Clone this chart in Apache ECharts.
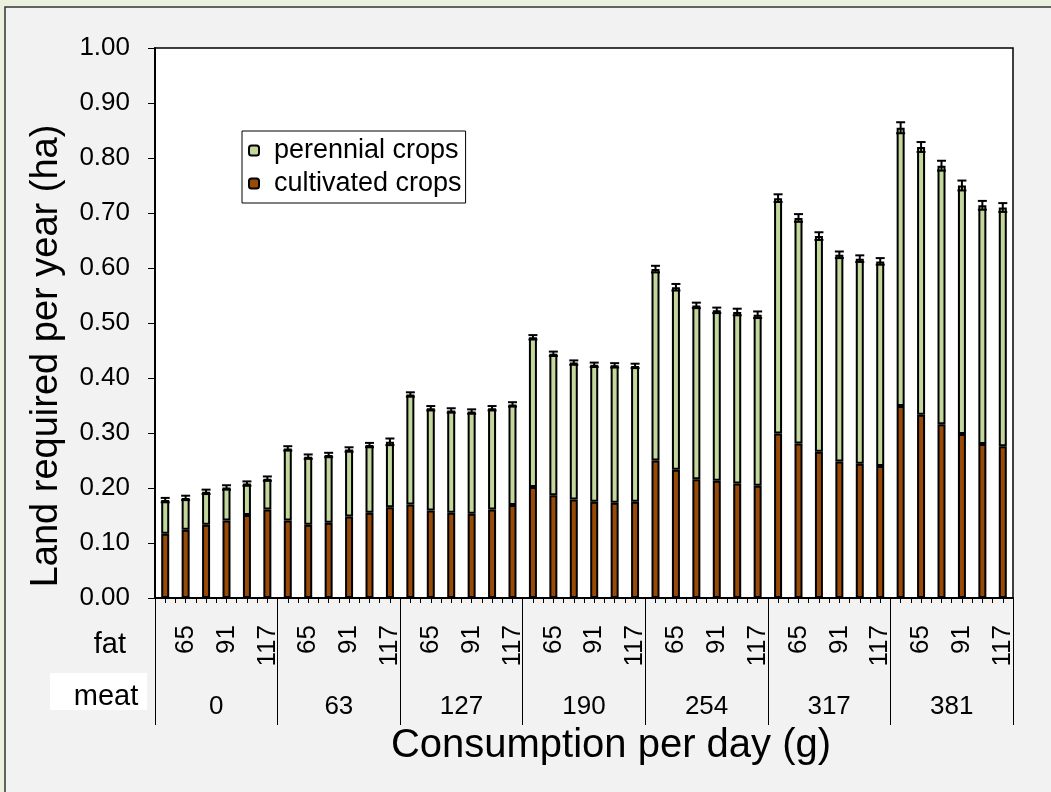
<!DOCTYPE html>
<html>
<head>
<meta charset="utf-8">
<script src="https://cdn.jsdelivr.net/npm/echarts@6/dist/echarts.min.js"></script>
<style>
html,body{margin:0;padding:0;background:#ebf1de;}
#chart{width:1051px;height:792px;}
</style>
</head>
<body>
<div id="chart"></div>
<script>
// ---- data ----
const meatLevels = ['0', '63', '127', '190', '254', '317', '381'];
const fatTicks = ['', '65', '', '91', '', '117'];
const cultivated = [
  0.117, 0.124, 0.133, 0.141, 0.151, 0.161,
  0.141, 0.133, 0.137, 0.148, 0.155, 0.165,
  0.170, 0.159, 0.155, 0.153, 0.161, 0.169,
  0.202, 0.187, 0.179, 0.175, 0.173, 0.175,
  0.250, 0.233, 0.216, 0.213, 0.208, 0.204,
  0.299, 0.281, 0.266, 0.248, 0.244, 0.240,
  0.349, 0.333, 0.316, 0.298, 0.280, 0.276
];
const perennial = [
  0.061, 0.058, 0.060, 0.060, 0.057, 0.056,
  0.131, 0.124, 0.123, 0.122, 0.123, 0.119,
  0.200, 0.186, 0.186, 0.186, 0.184, 0.183,
  0.272, 0.257, 0.249, 0.249, 0.250, 0.247,
  0.348, 0.332, 0.316, 0.310, 0.312, 0.311,
  0.428, 0.410, 0.392, 0.376, 0.373, 0.372,
  0.506, 0.487, 0.470, 0.452, 0.434, 0.434
];
const errorHalf = [
  0.004, 0.004, 0.004, 0.004, 0.004, 0.004,
  0.004, 0.004, 0.004, 0.004, 0.004, 0.006,
  0.004, 0.004, 0.004, 0.004, 0.004, 0.004,
  0.004, 0.004, 0.004, 0.004, 0.004, 0.004,
  0.006, 0.006, 0.005, 0.005, 0.006, 0.006,
  0.007, 0.007, 0.007, 0.006, 0.006, 0.006,
  0.010, 0.009, 0.009, 0.009, 0.008, 0.008
];
const yTicks = { min: 0, max: 1, interval: 0.1 };

// ---- build ----
const FONT = "'Liberation Sans', Arial, sans-serif";
const cats = [];
meatLevels.forEach((m, gi) => fatTicks.forEach((f, fi) => cats.push(m + '|' + fi)));
const errData = cats.map((c, i) => [i, cultivated[i] + perennial[i], errorHalf[i]]);

const chart = echarts.init(document.getElementById('chart'));
const option = {
  backgroundColor: '#ebf1de',
  animation: false,
  textStyle: { fontFamily: FONT },
  graphic: [
    { type: 'rect', z: -10, shape: { x: 5, y: 7, width: 1070, height: 800 },
      style: { fill: '#f2f2f2', stroke: '#333', lineWidth: 1.5 } },
    { type: 'rect', z: 1, shape: { x: 50, y: 673, width: 97, height: 37 }, style: { fill: '#fff' } },
    { type: 'text', z: 2, style: { text: 'meat', x: 106, y: 697, fill: '#000', font: '29px ' + FONT, textAlign: 'center', textVerticalAlign: 'middle' } },
    { type: 'text', z: 2, style: { text: 'fat', x: 126, y: 645, fill: '#000', font: '29px ' + FONT, textAlign: 'right', textVerticalAlign: 'middle' } },
    { type: 'text', z: 2, rotation: Math.PI / 2, x: 47, y: 356,
      style: { text: 'Land required per year (ha)', x: 0, y: 0, fill: '#000', font: '38px ' + FONT, textAlign: 'center', textVerticalAlign: 'middle' } },
    { type: 'text', z: 2, style: { text: 'Consumption per day (g)', x: 611, y: 746, fill: '#000', font: '40px ' + FONT, textAlign: 'center', textVerticalAlign: 'middle' } }
  ],
  legend: {
    orient: 'vertical', left: 242, top: 131,
    data: ['perennial crops', 'cultivated crops'],
    backgroundColor: '#fff', borderColor: '#000', borderWidth: 1,
    padding: [6, 4, 6, 6], itemGap: 6, itemWidth: 10, itemHeight: 10,
    textStyle: { fontSize: 27, color: '#000', fontFamily: FONT, padding: [0, 0, 0, 10] }
  },
  grid: {
    left: 155, top: 48, right: 38, bottom: 194,
    show: true, backgroundColor: '#fff', borderColor: '#000', borderWidth: 1.5
  },
  xAxis: [
    {
      type: 'category', data: cats, position: 'bottom', boundaryGap: true,
      axisLine: { show: true, lineStyle: { color: '#000', width: 2 } },
      axisTick: { show: true, interval: 0, length: 5, lineStyle: { color: '#000', width: 1 } },
      axisLabel: { interval: 0, rotate: 90, margin: 27, fontSize: 26, color: '#000', fontFamily: FONT,
        formatter: (v, i) => fatTicks[i % fatTicks.length] }
    },
    {
      type: 'category', data: cats, position: 'bottom', boundaryGap: true,
      axisLine: { show: false },
      axisTick: { show: true, interval: 0, alignWithLabel: true, length: 5, lineStyle: { color: '#000', width: 1 } },
      axisLabel: { show: false }
    },
    {
      type: 'category', data: meatLevels, position: 'bottom', boundaryGap: true,
      axisLine: { show: false },
      axisTick: { show: true, interval: 0, length: 127, lineStyle: { color: '#000', width: 1 } },
      axisLabel: { interval: 0, margin: 96, fontSize: 26, color: '#000', fontFamily: FONT }
    }
  ],
  yAxis: {
    type: 'value', min: yTicks.min, max: yTicks.max, interval: yTicks.interval,
    axisLine: { show: true, lineStyle: { color: '#000', width: 2 } },
    axisTick: { show: true, length: 7, lineStyle: { color: '#000', width: 1 } },
    splitLine: { show: false },
    axisLabel: { margin: 25, fontSize: 26, color: '#000', fontFamily: FONT, formatter: v => v.toFixed(2) }
  },
  series: [
    {
      name: 'cultivated crops', type: 'bar', stack: 'land', xAxisIndex: 0, data: cultivated,
      barWidth: 8,
      itemStyle: { color: '#994a07', borderColor: '#000', borderWidth: 2 }
    },
    {
      name: 'perennial crops', type: 'bar', stack: 'land', xAxisIndex: 0, data: perennial,
      barWidth: 8,
      itemStyle: { color: '#c3d69b', borderColor: '#000', borderWidth: 2 }
    },
    {
      name: 'err', type: 'custom', xAxisIndex: 0, yAxisIndex: 0, z: 10,
      data: errData, encode: { x: 0, y: 1 },
      renderItem: function (params, api) {
        const i = api.value(0), t = api.value(1), e = api.value(2);
        const hi = api.coord([i, t + e]);
        const lo = api.coord([i, t - e]);
        const hw = 4.5;
        const st = { stroke: '#000', lineWidth: 2 };
        return {
          type: 'group',
          children: [
            { type: 'line', shape: { x1: hi[0], y1: hi[1], x2: lo[0], y2: lo[1] }, style: st },
            { type: 'line', shape: { x1: hi[0] - hw, y1: hi[1], x2: hi[0] + hw, y2: hi[1] }, style: st },
            { type: 'line', shape: { x1: lo[0] - hw, y1: lo[1], x2: lo[0] + hw, y2: lo[1] }, style: st }
          ]
        };
      }
    }
  ]
};
chart.setOption(option);
</script>
</body>
</html>
